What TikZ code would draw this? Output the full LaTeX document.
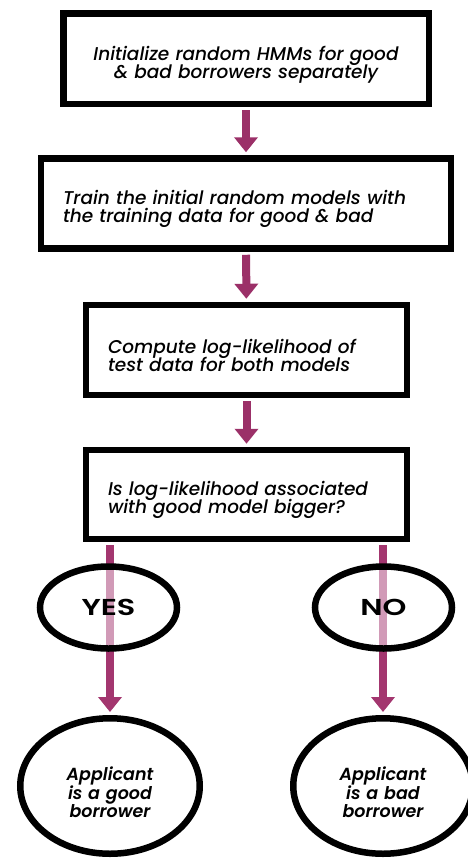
\documentclass[tikz,border=0pt]{standalone}
\usepackage{fontspec}
\setmainfont{Poppins}
\newfontfamily\stepfont{Poppins Medium}
\newfontfamily\labelfont{Poppins SemiBold}
\usetikzlibrary{arrows.meta,shapes.geometric}
\definecolor{flow}{HTML}{9B3068}
\definecolor{branch}{HTML}{A3366F}
% fixed line spacing, plus a zero-width strut that lowers a multi-line node text
\newcommand{\droptext}[1]{\lineskiplimit=-20pt\relax\rule{0pt}{#1}}
\newcommand{\wideword}[1]{\scalebox{1.32}[1]{#1}}
\begin{document}
\begin{tikzpicture}[x=1pt,y=-1pt,
  stepbox/.style={draw=black,line width=6.5pt,rectangle,inner sep=0pt,
    font=\fontsize{18.5}{18}\stepfont\itshape,
    execute at begin node={\droptext{25pt}}},
  lowered/.style={execute at begin node={\droptext{#1}}},
  leftbox/.style={stepbox,align=left,inner xsep=22pt},
  choice/.style={draw=black,line width=6.5pt,ellipse,inner sep=0pt,
    fill=white,fill opacity=0.5,text opacity=1,
    font=\fontsize{23}{26}\labelfont},
  outcome/.style={draw=black,line width=6.5pt,ellipse,inner sep=0pt,
    minimum width=179.5pt,minimum height=135.5pt,
    text width=118pt,align=center,
    font=\fontsize{17.5}{18.5}\labelfont\itshape,
    execute at begin node={\droptext{27pt}}},
  flowarrow/.style={draw=flow,line width=8pt,
    -{Triangle[width=23pt,length=15pt]},shorten <=3pt,shorten >=3pt},
  brancharrow/.style={flowarrow,draw=branch}]
\useasboundingbox (0,0) rectangle (467,860);

% processing steps
\node[stepbox,lowered=26pt,minimum width=365.5pt,minimum height=90.5pt,
  text width=330pt,align=center]
  (init) at (246,58.5) {Initialize random HMMs for good\\ \& bad borrowers separately};
\node[leftbox,minimum width=410pt,minimum height=90pt,text width=366pt]
  (train) at (246,203.5) {Train the initial random models with\\the training data for good \& bad};
\node[leftbox,lowered=20pt,minimum width=321pt,minimum height=90pt,text width=277pt]
  (comp) at (246.5,350) {Compute log-likelihood of\\test data for both models};
\node[leftbox,minimum width=321pt,minimum height=89pt,text width=277pt]
  (ask) at (246.5,494.5) {Is log-likelihood associated\\with good model bigger?};

% outcomes
\node[outcome] (good) at (110,786) {Applicant\\is a good\\borrower};
\node[outcome] (bad) at (383,786) {Applicant\\is a bad\\borrower};

% connectors between the steps
\draw[flowarrow] (init) -- (train);
\draw[flowarrow] (train) -- (comp);
\draw[flowarrow] (comp) -- (ask);

% branches, passing under the answer labels
\draw[brancharrow] (ask.south -| good) -- (good.north);
\draw[brancharrow] (ask.south -| bad) -- (bad.north);

\node[choice,minimum width=137pt,minimum height=82pt] (yes) at (108.5,607.5) {\wideword{YES}};
\node[choice,minimum width=137pt,minimum height=82pt] (no) at (383.5,607.5) {\wideword{NO}};
\end{tikzpicture}
\end{document}
